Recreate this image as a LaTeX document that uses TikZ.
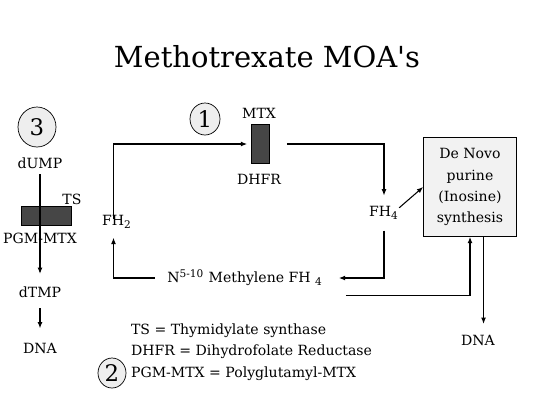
\documentclass[tikz,border=0pt]{standalone}
\usepackage{fontspec}
\setmainfont{DejaVu Serif}
\usetikzlibrary{arrows.meta,positioning,shapes.geometric,calc}
\usepackage{xcolor}
\definecolor{numFill}{RGB}{238,238,238}
\definecolor{pathBox}{RGB}{242,242,242}
\definecolor{enzFill}{RGB}{70,70,70}
\tikzset{
    every node/.append style={align=center},
    lbl/.style={font=\fontsize{8}{10}\selectfont,inner sep=1pt},
    ttl/.style={font=\fontsize{16.5}{18}\selectfont,inner sep=0pt},
    num/.style={ellipse,draw=black,fill=numFill,font=\fontsize{13}{13}\selectfont,inner sep=0pt},
    enz/.style={rectangle,draw=black,fill=enzFill,inner sep=0pt},
    pbox/.style={rectangle,draw=black,fill=pathBox,minimum width=1.86cm,minimum height=1.98cm,
        font=\fontsize{8}{12}\selectfont},
    arr/.style={-{Latex[length=3.6pt,width=2.8pt]},line width=0.6pt},
    ln/.style={line width=0.6pt}
}
\begin{document}
\begin{tikzpicture}[x=0.02cm,y=-0.02cm]
    \useasboundingbox (0,0) rectangle (533,400);
    \node[ttl] (title) at (267,57) {Methotrexate MOA\textquotesingle s};
    % thymidylate branch
    \node[num,minimum width=0.76cm,minimum height=0.8cm] (n3) at (37,127) {3};
    \node[lbl]                     (dump) at (40,163) {dUMP};
    \node[enz,minimum width=1cm,minimum height=0.38cm] (tsbox) at (46,216) {};
    \node[lbl]                     (ts)   at (72,199) {TS};
    \node[lbl]                     (pgm)  at (40,238) {PGM-MTX};
    \node[lbl]                     (dtmp) at (40,292) {dTMP};
    \node[lbl]                     (dna1) at (40,348) {DNA};
    % folate cycle
    \node[num,minimum width=0.6cm,minimum height=0.64cm] (n1) at (205,119) {1};
    \node[lbl]                     (mtx)  at (259,113) {MTX};
    \node[enz,minimum width=0.36cm,minimum height=0.78cm] (dhfr) at (260,144) {};
    \node[lbl]                     (dhfrl) at (259,179) {DHFR};
    \node[lbl]                     (fh2)  at (117,222) {FH\textsubscript{2}};
    \node[lbl]                     (fh4)  at (384,213) {FH\textsubscript{4}};
    \node[lbl]                     (meth) at (245,278) {N\textsuperscript{5-10} Methylene FH \textsubscript{4}};
    \node[pbox]                    (denovo) at (470,187) {De Novo\\purine\\(Inosine)\\synthesis};
    \node[lbl]                     (dna2) at (478,340) {DNA};
    % legend
    \node[lbl,anchor=west]         (leg1) at (129,331) {TS = Thymidylate synthase};
    \node[lbl,anchor=west]         (leg2) at (129,352) {DHFR = Dihydrofolate Reductase};
    \node[lbl,anchor=west]         (leg3) at (129,374) {PGM-MTX = Polyglutamyl-MTX};
    \node[num,minimum width=0.56cm,minimum height=0.6cm] (n2) at (112,373) {2};

    \draw[arr] ([yshift=-2pt]dump.south) -- ([yshift=6pt]dtmp.north);
    \draw[arr] ([yshift=-5pt]dtmp.south) -- ([yshift=7pt]dna1.north);
    \draw[arr] ([xshift=-2pt,yshift=-3pt]fh2.north) |- ([xshift=-2pt]dhfr.west);
    \draw[arr] ([xshift=10pt]dhfr.east) -| ([yshift=5pt]fh4.north);
    \draw[arr] ([xshift=-1pt,yshift=-2pt]fh4.north east) -- (denovo.west);
    \draw[arr] ([yshift=-5pt]fh4.south) |- ([xshift=8pt]meth.east);
    \draw[arr] ([xshift=-6pt]meth.west) -| ([xshift=-2pt,yshift=-4pt]fh2.south);
    \draw[arr] ([xshift=12pt,yshift=-4pt]meth.south east) -| (denovo.south);
    \coordinate (dnatop) at ([xshift=7.7pt]denovo.south);
    \draw[arr] (dnatop) -- ([yshift=5pt]dnatop |- dna2.north);
\end{tikzpicture}
\end{document}
